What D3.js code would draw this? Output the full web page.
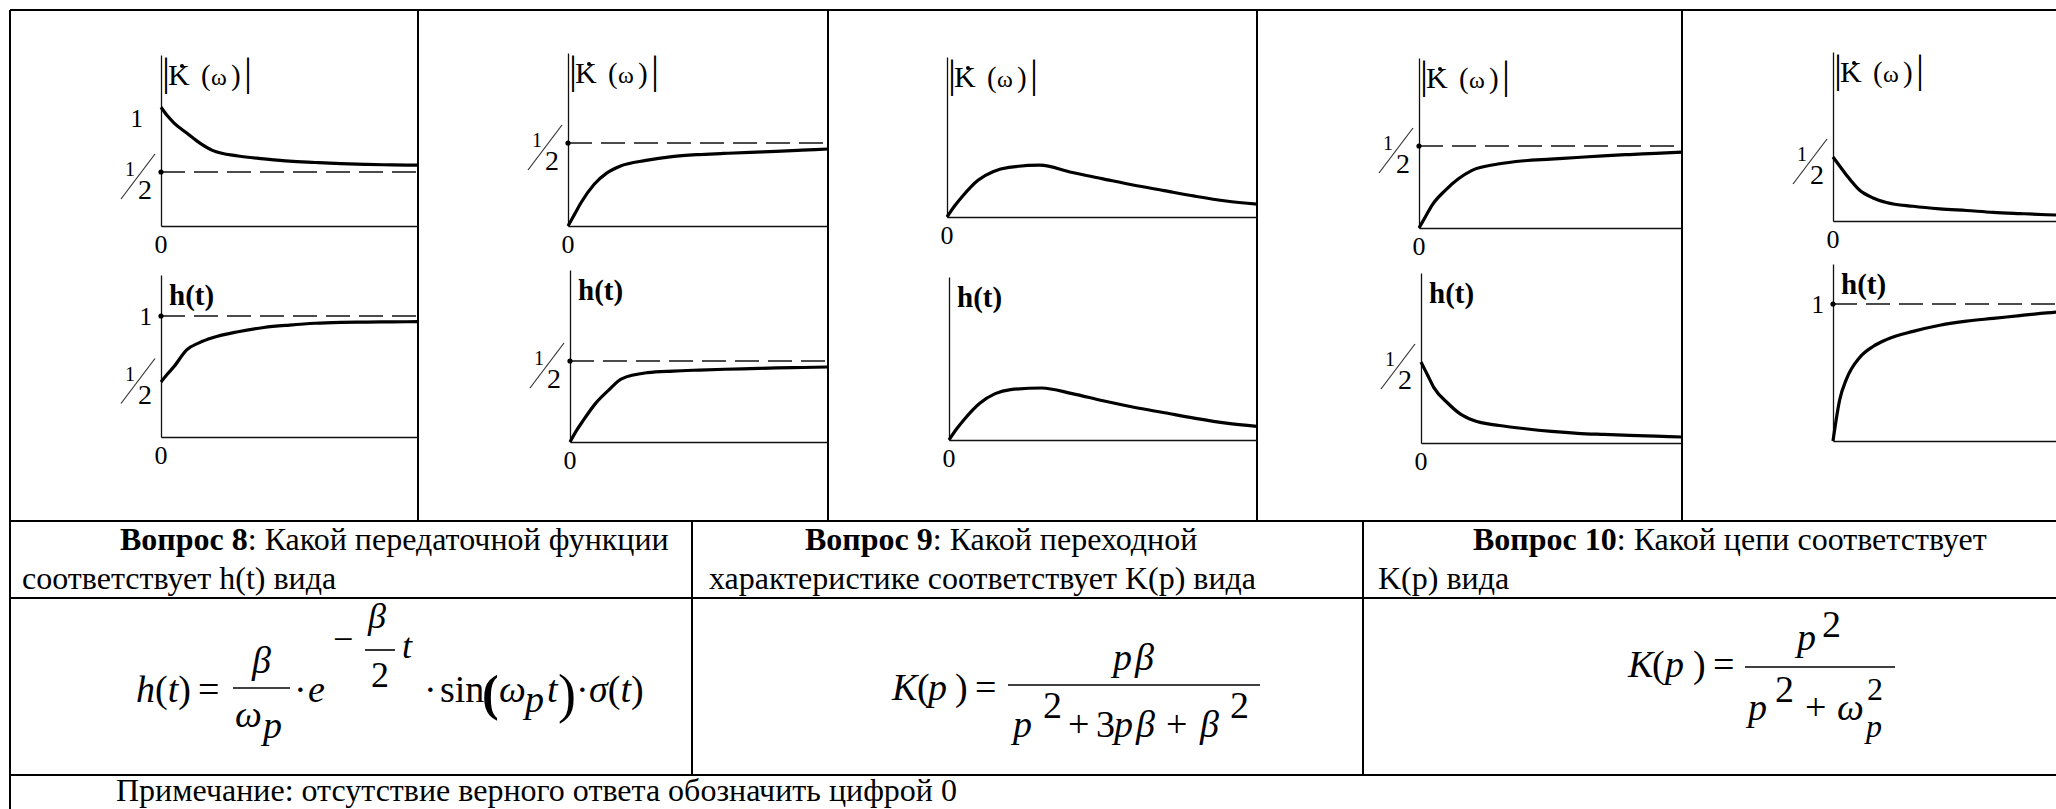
<!DOCTYPE html>
<html>
<head>
<meta charset="utf-8">
<script src="https://cdn.jsdelivr.net/npm/d3@7"></script>
<style>
  html, body { margin: 0; padding: 0; background: #fff; }
  svg { display: block; font-family: "Liberation Serif", "Times New Roman", serif; }
</style>
</head>
<body>
<svg id="chart" width="2056" height="809"></svg>
<script>
// Shared x grid (fraction of the visible time / frequency axis)
const xGrid = [0, 0.025, 0.05, 0.1, 0.15, 0.2, 0.3, 0.4, 0.5, 0.6, 0.7, 0.8, 0.9, 1];

// |K(w)| curves, one per answer panel
const kValues1 = [1.10, 1.02, 0.955, 0.861, 0.769, 0.70, 0.648, 0.622, 0.60, 0.588, 0.577, 0.570, 0.566, 0.563];
const kValues2 = [0, 0.07, 0.14, 0.25, 0.32, 0.36, 0.395, 0.418, 0.43, 0.437, 0.444, 0.45, 0.457, 0.464];
const kValues3 = [0, 0.07, 0.13, 0.23, 0.285, 0.31, 0.324, 0.28, 0.24, 0.20, 0.165, 0.13, 0.10, 0.08];
const kValues4 = [0, 0.07, 0.14, 0.23, 0.30, 0.35, 0.39, 0.41, 0.42, 0.43, 0.44, 0.448, 0.455, 0.463];
const kValues5 = [0.5, 0.43, 0.36, 0.24, 0.18, 0.145, 0.115, 0.095, 0.082, 0.068, 0.058, 0.049, 0.043, 0.04];

// h(t) curves, one per answer panel
const hValues1 = [0.455, 0.52, 0.58, 0.72, 0.78, 0.82, 0.87, 0.905, 0.925, 0.94, 0.947, 0.95, 0.952, 0.953];
const hValues2 = [0, 0.07, 0.13, 0.24, 0.32, 0.39, 0.428, 0.438, 0.444, 0.449, 0.453, 0.457, 0.46, 0.463];
const hValues3 = [0, 0.07, 0.13, 0.23, 0.29, 0.315, 0.325, 0.29, 0.245, 0.205, 0.17, 0.135, 0.105, 0.085];
const hValues4 = [0.5, 0.42, 0.34, 0.25, 0.18, 0.14, 0.108, 0.088, 0.072, 0.06, 0.053, 0.047, 0.042, 0.037];
const hValues5 = [0, 0.30, 0.45, 0.61, 0.69, 0.74, 0.80, 0.845, 0.875, 0.895, 0.915, 0.935, 0.95, 0.96];

// tick labels on the vertical axes (ref = dashed reference line + dot)
const kTicks = [
  [{ v: 1, label: "1", ref: false }, { v: 0.5, label: "1/2", ref: true }],
  [{ v: 0.5, label: "1/2", ref: true }],
  [],
  [{ v: 0.5, label: "1/2", ref: true }],
  [{ v: 0.5, label: "1/2", ref: false }]
];
const hTicks = [
  [{ v: 1, label: "1", ref: true }, { v: 0.5, label: "1/2", ref: false }],
  [{ v: 0.5, label: "1/2", ref: true }],
  [],
  [{ v: 0.5, label: "1/2", ref: false }],
  [{ v: 1, label: "1", ref: true }]
];
const hZeroLabel = [true, true, true, true, false];

// question texts
const questions = [
  { bold: "Вопрос 8", rest: ": Какой передаточной функции", line2: "соответствует h(t) вида" },
  { bold: "Вопрос 9", rest: ": Какой переходной", line2: "характеристике соответствует K(p) вида" },
  { bold: "Вопрос 10", rest: ": Какой цепи соответствует", line2: "K(p) вида" }
];
const noteText = "Примечание: отсутствие верного ответа обозначить цифрой 0";

const kValues = [kValues1, kValues2, kValues3, kValues4, kValues5];
const hValues = [hValues1, hValues2, hValues3, hValues4, hValues5];

// layout of the small plots inside the table cells
const kLayout = [
  { ax: 161, top: 55, base: 226, unit: 108, right: 418 },
  { ax: 568, top: 53, base: 226, unit: 166, right: 828 },
  { ax: 947, top: 57, base: 217, unit: 160, right: 1257 },
  { ax: 1419, top: 58, base: 228, unit: 164, right: 1682 },
  { ax: 1833, top: 52, base: 221, unit: 128, right: 2100 }
];
const hLayout = [
  { ax: 161, top: 275, base: 437, unit: 121, right: 418 },
  { ax: 570, top: 270, base: 442, unit: 162, right: 828 },
  { ax: 949, top: 277, base: 440, unit: 160, right: 1257 },
  { ax: 1421, top: 273, base: 443, unit: 162, right: 1682 },
  { ax: 1833, top: 264, base: 441, unit: 137, right: 2100 }
];

const svg = d3.select("#chart");
svg.append("rect").attr("width", 2056).attr("height", 809).attr("fill", "#fff");

// ---- table grid
const grid = svg.append("g").attr("stroke", "#000").attr("stroke-width", 2);
const hLines = [10, 521, 598, 775];
hLines.forEach(y => grid.append("line").attr("x1", 10).attr("x2", 2056).attr("y1", y).attr("y2", y));
grid.append("line").attr("x1", 10).attr("x2", 10).attr("y1", 10).attr("y2", 809);
[418, 828, 1257, 1682].forEach(x => grid.append("line").attr("x1", x).attr("x2", x).attr("y1", 10).attr("y2", 521));
[692, 1363].forEach(x => grid.append("line").attr("x1", x).attr("x2", x).attr("y1", 521).attr("y2", 775));

// ---- small plots
function drawPlot(L, values, ticks, kind, zeroLabel) {
  const g = svg.append("g");
  const x = d3.scaleLinear().domain([0, 1]).range([L.ax, L.right]);
  const y = d3.scaleLinear().domain([0, (L.base - L.top) / L.unit]).range([L.base, L.top]);

  g.append("g")
    .attr("transform", `translate(${L.ax},0)`)
    .attr("color", "#111")
    .call(d3.axisLeft(y).tickValues([]).tickSizeOuter(0))
    .call(a => a.select(".domain").attr("stroke-width", 1.3));
  g.append("g")
    .attr("transform", `translate(0,${L.base})`)
    .attr("color", "#111")
    .call(d3.axisBottom(x).tickValues([]).tickSizeOuter(0))
    .call(a => a.select(".domain").attr("stroke-width", 1.3));

  ticks.forEach(t => {
    const ty = y(t.v);
    if (t.ref) {
      g.append("line")
        .attr("x1", x(0)).attr("x2", x(1)).attr("y1", ty).attr("y2", ty)
        .attr("stroke", "#111").attr("stroke-width", 1.3).attr("stroke-dasharray", "24,9");
      g.append("circle").attr("cx", L.ax).attr("cy", ty).attr("r", 2.6).attr("fill", "#000");
    }
    if (t.label === "1") {
      g.append("text")
        .attr("x", L.ax - (t.ref ? 9 : 18)).attr("y", ty + 9)
        .attr("text-anchor", "end").attr("font-size", 25).text("1");
    } else {
      const f = g.append("g").attr("transform", `translate(${L.ax},${ty})`);
      f.append("text").attr("x", -36).attr("y", 4).attr("font-size", 20).text("1");
      f.append("line").attr("x1", -40).attr("y1", 27).attr("x2", -6).attr("y2", -18)
        .attr("stroke", "#333").attr("stroke-width", 1.2);
      f.append("text").attr("x", -23).attr("y", 27).attr("font-size", 28).text("2");
    }
  });

  g.append("path")
    .datum(values)
    .attr("fill", "none")
    .attr("stroke", "#000")
    .attr("stroke-width", 3.2)
    .attr("stroke-linejoin", "round")
    .attr("d", d3.line().x((d, i) => x(xGrid[i])).y(d => y(d)).curve(d3.curveMonotoneX));

  if (zeroLabel) {
    g.append("text").attr("x", L.ax).attr("y", L.base + 27)
      .attr("text-anchor", "middle").attr("font-size", 26).text("0");
  }

  const ly = L.top + 30;
  if (kind === "k") {
    const t = g.append("text").attr("y", ly);
    t.append("tspan").attr("x", L.ax + 1).attr("font-size", 40).text("|");
    t.append("tspan").attr("x", L.ax + 7).attr("font-size", 30).text("K");
    t.append("tspan").attr("x", L.ax + 40).attr("font-size", 29).text("(");
    t.append("tspan").attr("x", L.ax + 50).attr("font-size", 24).text("ω");
    t.append("tspan").attr("x", L.ax + 70).attr("font-size", 29).text(")");
    t.append("tspan").attr("x", L.ax + 83).attr("font-size", 40).text("|");
    // dot accent over K
    g.append("circle").attr("cx", L.ax + 21).attr("cy", L.top + 11).attr("r", 2).attr("fill", "#000");
  } else {
    g.append("text").attr("x", L.ax + 8).attr("y", ly)
      .attr("font-size", 29).attr("font-weight", "bold").text("h(t)");
  }
}

kLayout.forEach((L, i) => drawPlot(L, kValues[i], kTicks[i], "k", true));
hLayout.forEach((L, i) => drawPlot(L, hValues[i], hTicks[i], "h", hZeroLabel[i]));

// ---- question row
const qPos = [
  { x1: 120, x2: 22 },
  { x1: 805, x2: 709 },
  { x1: 1473, x2: 1378 }
];
questions.forEach((q, i) => {
  const t1 = svg.append("text").attr("x", qPos[i].x1).attr("y", 550).attr("font-size", 32);
  t1.append("tspan").attr("font-weight", "bold").text(q.bold);
  t1.append("tspan").text(q.rest);
  svg.append("text").attr("x", qPos[i].x2).attr("y", 589).attr("font-size", 32).text(q.line2);
});

// ---- formulas
function tok(x, y, parts, size) {
  const t = svg.append("text").attr("x", x).attr("y", y).attr("font-size", size || 38);
  parts.forEach(p => {
    const s = t.append("tspan").text(p[0]);
    if (p[1] === "i") s.attr("font-style", "italic");
    if (p[1] === "b") s.attr("font-weight", "bold");
  });
}
// one text element, each piece placed on its own: [text, style, x, y, size]
function group(pieces) {
  const t = svg.append("text").attr("font-size", 38);
  pieces.forEach(p => {
    const s = t.append("tspan").attr("x", p[2]).attr("y", p[3]).text(p[0]);
    if (p[1] === "i") s.attr("font-style", "italic");
    if (p[1] === "b") s.attr("font-weight", "bold");
    if (p[4]) s.attr("font-size", p[4]);
  });
}
function bar(x1, x2, y) {
  svg.append("line").attr("x1", x1).attr("x2", x2).attr("y1", y).attr("y2", y)
    .attr("stroke", "#000").attr("stroke-width", 1.6);
}

// h(t) = beta/omega_p * e^{-beta/2 t} * sin(omega_p t) * sigma(t)
tok(136, 702, [["h", "i"], ["("], ["t", "i"], [")"]]);
tok(198, 702, [["="]]);
tok(252, 673, [["β", "i"]]);
bar(233, 290, 688);
group([["ω", "i", 235, 727], ["p", "i", 263, 738]]);
tok(294, 702, [["·"]]);
tok(308, 702, [["e", "i"]]);
tok(333, 651, [["−"]], 36);
tok(368, 628, [["β", "i"]], 36);
bar(365, 395, 650);
tok(371, 687, [["2"]], 36);
tok(402, 658, [["t", "i"]], 36);
tok(424, 702, [["·"]]);
tok(440, 702, [["sin"]]);
tok(482, 710, [["(", "b"]], 50);
tok(499, 702, [["ω", "i"]]);
tok(525, 712, [["p", "i"]]);
tok(547, 702, [["t", "i"]]);
tok(558, 712, [[")"]], 54);
tok(576, 702, [["·"]]);
tok(589, 702, [["σ", "i"], ["("], ["t", "i"], [")"]]);

// K(p) = p beta / (p^2 + 3 p beta + beta^2)
tok(892, 700, [["K", "i"]]);
tok(917, 700, [["("]]);
tok(928, 700, [["p", "i"]]);
tok(955, 700, [[")"]]);
tok(975, 700, [["="]]);
bar(1008, 1260, 685);
tok(1113, 670, [["p", "i"]]);
tok(1135, 670, [["β", "i"]]);
tok(1013, 737, [["p", "i"]]);
tok(1043, 718, [["2"]]);
tok(1068, 737, [["+"]]);
group([["3", "", 1096, 737], ["p", "i", 1114, 737], ["β", "i", 1136, 737]]);
tok(1166, 737, [["+"]]);
tok(1200, 737, [["β", "i"]]);
tok(1230, 718, [["2"]]);

// K(p) = p^2 / (p^2 + omega_p^2)
tok(1628, 677, [["K", "i"]]);
tok(1652, 677, [["("]]);
tok(1665, 677, [["p", "i"]]);
tok(1693, 677, [[")"]]);
tok(1713, 677, [["="]]);
bar(1745, 1895, 667);
tok(1797, 650, [["p", "i"]]);
tok(1822, 637, [["2"]]);
tok(1748, 720, [["p", "i"]]);
tok(1775, 702, [["2"]]);
tok(1805, 720, [["+"]]);
tok(1837, 720, [["ω", "i"]]);
tok(1867, 700, [["2"]], 32);
tok(1866, 737, [["p", "i"]], 32);

// ---- note row
svg.append("text").attr("x", 116).attr("y", 801).attr("font-size", 32).text(noteText);
</script>
</body>
</html>
